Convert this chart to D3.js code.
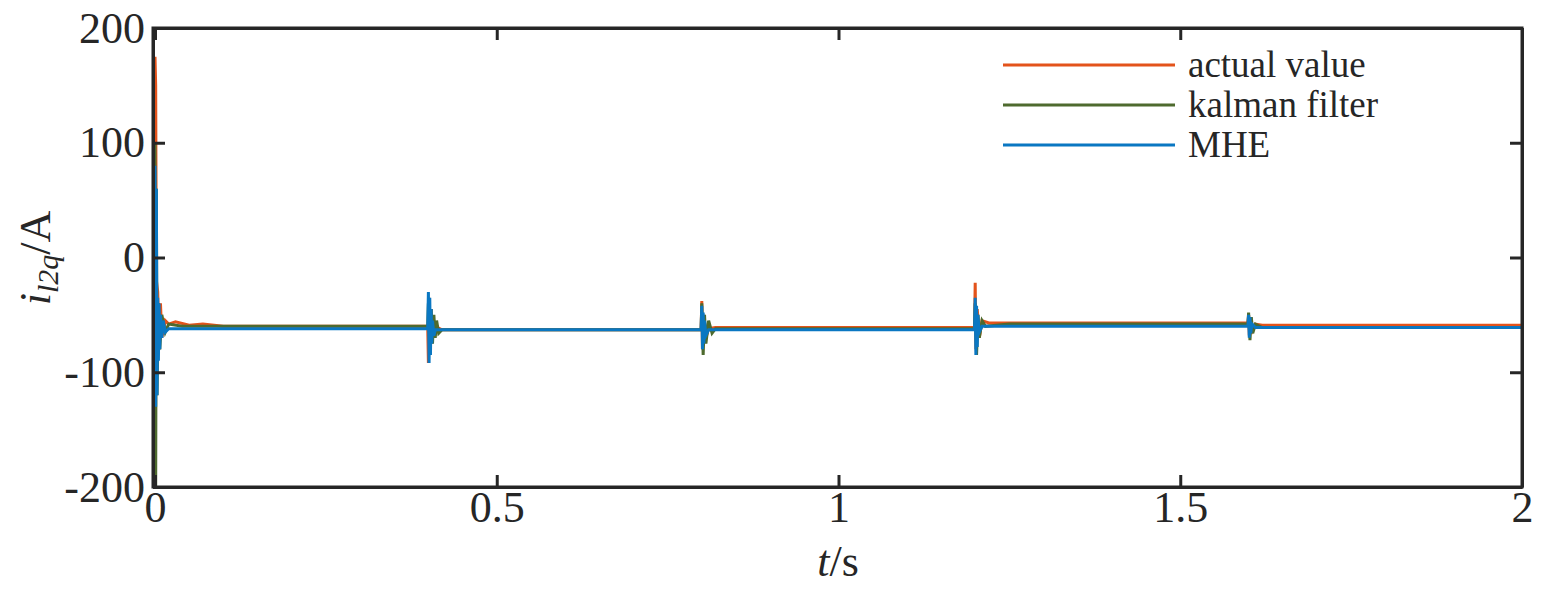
<!DOCTYPE html>
<html><head><meta charset="utf-8">
<script src="https://cdn.jsdelivr.net/npm/d3@7"></script>
<style>body{margin:0;background:#fff}</style>
</head><body><svg id="chart" width="1541" height="599"></svg>
<script>
// sample times and values (A) for each series
const actualT = [0,0.001,0.002,0.004,0.006,0.008,0.01,0.015,0.02,0.03,0.05,0.07,0.1,0.399,0.4,0.401,0.402,0.404,0.406,0.41,0.42,0.5,0.799,0.8,0.801,0.803,0.806,0.81,0.82,0.9,1.199,1.2,1.201,1.203,1.206,1.21,1.22,1.25,1.599,1.6,1.601,1.603,1.606,1.61,1.62,2];
const actualV = [175,150,-20,-30,-80,-40,-70,-55,-58,-56,-59,-58,-60,-60,-92,-35,-85,-45,-70,-60,-63,-63,-63,-38,-80,-50,-70,-62,-61,-61,-61,-22,-80,-45,-70,-55,-57,-57,-57,-50,-68,-53,-63,-58,-59,-59];
const kalmanT = [0,0.001,0.002,0.003,0.005,0.007,0.01,0.015,0.02,0.04,0.1,0.399,0.4,0.402,0.404,0.406,0.408,0.41,0.412,0.415,0.42,0.5,0.799,0.8,0.802,0.804,0.806,0.81,0.815,0.82,0.9,1.199,1.2,1.202,1.204,1.206,1.21,1.215,1.25,1.599,1.6,1.602,1.604,1.606,1.61,1.62,2];
const kalmanV = [100,-200,60,-120,-40,-80,-50,-65,-58,-60,-60,-60,-40,-85,-45,-75,-50,-70,-55,-66,-63,-63,-63,-40,-85,-50,-75,-55,-66,-62,-62,-62,-40,-85,-50,-70,-55,-60,-58,-58,-48,-72,-52,-66,-58,-61,-61];
const mheT = [0,0.001,0.002,0.003,0.004,0.005,0.006,0.007,0.008,0.01,0.012,0.015,0.02,0.1,0.399,0.4,0.401,0.402,0.403,0.404,0.405,0.406,0.408,0.41,0.5,0.799,0.8,0.801,0.802,0.803,0.804,0.806,0.81,0.9,1.199,1.2,1.201,1.202,1.203,1.204,1.206,1.21,1.3,1.599,1.6,1.601,1.602,1.603,1.605,1.61,2];
const mheV = [80,-130,60,-120,-35,-90,-40,-80,-50,-70,-55,-65,-62,-62,-62,-30,-92,-35,-85,-45,-75,-55,-68,-63,-63,-63,-42,-80,-48,-75,-55,-68,-63,-63,-63,-35,-85,-42,-78,-50,-65,-60,-60,-60,-50,-70,-52,-66,-58,-61,-61];
const yTicks = [-200,-100,0,100,200];
const xTicks = [0,0.5,1,1.5,2];
const seriesNames = ["actual value","kalman filter","MHE"];
const seriesColors = ["#e3531b","#4e6a2e","#0a77c2"];

const svg = d3.select("#chart");
const pL = 153, pR = 1522, pT = 28, pB = 487;
const x = d3.scaleLinear().domain([0,2]).range([pL+2,pR]);
const y = d3.scaleLinear().domain([-200,200]).range([pB,pT]);
const font = "'Liberation Serif', 'Times New Roman', serif";

svg.append("clipPath").attr("id","c").append("rect")
  .attr("x",pL).attr("y",pT).attr("width",pR-pL).attr("height",pB-pT);

const series = [[actualT,actualV],[kalmanT,kalmanV],[mheT,mheV]];
const line = d3.line().x(d=>x(d[0])).y(d=>y(d[1]));
series.forEach((s,i)=>{
  svg.append("path").attr("clip-path","url(#c)")
    .datum(d3.zip(s[0],s[1]))
    .attr("d",line).attr("fill","none")
    .attr("stroke",seriesColors[i]).attr("stroke-width",3);
});

// axes
svg.append("g").attr("transform",`translate(${pL},0)`)
  .call(d3.axisLeft(y).tickValues(yTicks).tickSizeInner(-12).tickSizeOuter(0).tickPadding(8).tickFormat(d=>String(d)));
svg.append("g").attr("transform",`translate(0,${pB})`)
  .call(d3.axisBottom(x).tickValues(xTicks).tickSizeInner(-12).tickSizeOuter(0).tickPadding(4).tickFormat(d=>d));
svg.append("g").attr("transform",`translate(${pR},0)`)
  .call(d3.axisRight(y).tickValues(yTicks).tickSizeInner(-12).tickSizeOuter(0).tickFormat(""));
svg.append("g").attr("transform",`translate(0,${pT})`)
  .call(d3.axisTop(x).tickValues(xTicks).tickSizeInner(-12).tickSizeOuter(0).tickFormat(""));
svg.selectAll(".domain, .tick line").attr("stroke","#262626").attr("stroke-width",3);
svg.selectAll(".tick text").attr("font-family",font).attr("font-size",44).attr("fill","#262626");
svg.append("rect").attr("x",pL).attr("y",pT).attr("width",pR-pL).attr("height",pB-pT)
  .attr("fill","none").attr("stroke","#262626").attr("stroke-width",3);

// labels
svg.append("text").attr("x",838).attr("y",576).attr("text-anchor","middle")
  .attr("font-family",font).attr("font-size",44).attr("fill","#262626")
  .html('<tspan font-style="italic">t</tspan>/s');
svg.append("text").attr("transform","translate(50,258) rotate(-90)").attr("text-anchor","middle")
  .attr("font-family",font).attr("font-size",44).attr("fill","#262626")
  .html('<tspan font-style="italic">i</tspan><tspan font-style="italic" font-size="30" dy="8">l2q</tspan><tspan dy="-8">/A</tspan>');

// legend
seriesNames.forEach((n,i)=>{
  const ly = 65 + i*40;
  svg.append("line").attr("x1",1003).attr("x2",1175).attr("y1",ly).attr("y2",ly)
    .attr("stroke",seriesColors[i]).attr("stroke-width",3);
  svg.append("text").attr("x",1188).attr("y",ly+12).attr("font-family",font)
    .attr("font-size",37).attr("fill","#262626").text(n);
});
</script></body></html>
